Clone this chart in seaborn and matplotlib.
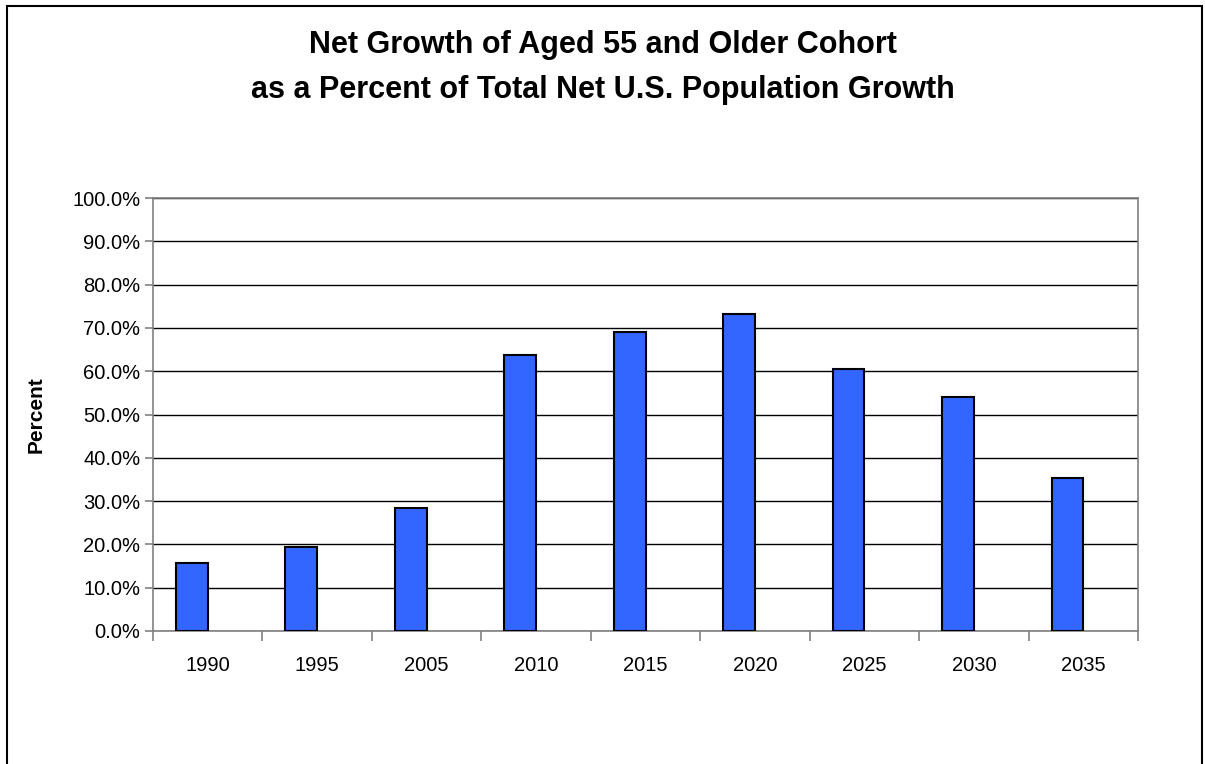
import matplotlib
matplotlib.use("Agg")
import matplotlib.pyplot as plt
import seaborn as sns
import pandas as pd
import numpy as np
from matplotlib.patches import Rectangle
from matplotlib.ticker import FuncFormatter, FixedLocator

years = ["1990", "1995", "2005", "2010", "2015", "2020", "2025", "2030", "2035"]
percent = [15.6, 19.4, 28.3, 63.7, 69.1, 73.3, 60.5, 54.0, 35.4]
series_names = ["Aged 55+", "(empty)"]

sns.set_theme(style="white")
plt.rcParams['font.family'] = ['Liberation Sans', 'DejaVu Sans']
plt.rcParams['text.color'] = 'black'

df = pd.DataFrame({
    "year": years * 2,
    "value": percent + [np.nan] * len(years),
    "series": [series_names[0]] * len(years) + [series_names[1]] * len(years),
})

fig = plt.figure(figsize=(12.05, 7.64), dpi=100)
ax = fig.add_axes([153 / 1205, 1 - 631 / 764, (1138 - 153) / 1205, (631 - 198) / 764])

sns.barplot(data=df, x="year", y="value", hue="series", hue_order=series_names,
            order=years, palette=["#3366FF", "#3366FF"], saturation=1, width=0.58, dodge=True,
            edgecolor="black", linewidth=1.5, ax=ax, legend=False, zorder=3)

ax.set_ylim(0, 100)
ax.set_xlim(-0.5, len(years) - 0.5)
ax.set_yticks(np.arange(0, 101, 10))
ax.yaxis.set_major_formatter(FuncFormatter(lambda v, p: f"{v:.1f}%"))
ax.grid(axis="y", color="black", linewidth=1.0, zorder=0)
ax.set_axisbelow(True)

ax.xaxis.set_major_locator(FixedLocator(np.arange(len(years))))
ax.set_xticks(np.arange(-0.5, len(years), 1.0), minor=True)
ax.tick_params(axis="x", which="major", bottom=True, length=0, pad=18, labelsize=14.5,
               labelcolor="black")
ax.tick_params(axis="x", which="minor", bottom=True, length=7, width=1.2, color="#808080",
               direction="out")
ax.tick_params(axis="y", which="major", left=True, length=6, width=1.2, color="#808080",
               direction="out", labelsize=14.5, pad=3, labelcolor="black")

for s in ax.spines.values():
    s.set_color("#808080")
    s.set_linewidth(1.2)
    s.set_visible(True)

ax.set_xlabel("")
ax.set_ylabel("Percent", fontsize=15, fontweight="bold", labelpad=19, color="black")

title_fam = ["Liberation Sans Narrow", "Liberation Sans", "DejaVu Sans"]
fig.text(0.5, 1 - 45 / 764, "Net Growth of Aged 55 and Older Cohort",
         ha="center", va="center", fontsize=22, fontweight="bold", color="black",
         family=title_fam)
fig.text(0.5, 1 - 90 / 764, "as a Percent of Total Net U.S. Population Growth",
         ha="center", va="center", fontsize=22, fontweight="bold", color="black",
         family=title_fam)

border = Rectangle((7 / 1205, -0.05), (1202 - 7) / 1205, 1.05 - 6 / 764,
                   transform=fig.transFigure, fill=False, edgecolor="black",
                   linewidth=1.5, clip_on=False)
fig.patches.append(border)

fig.savefig("out.png", dpi=100, facecolor="white")
